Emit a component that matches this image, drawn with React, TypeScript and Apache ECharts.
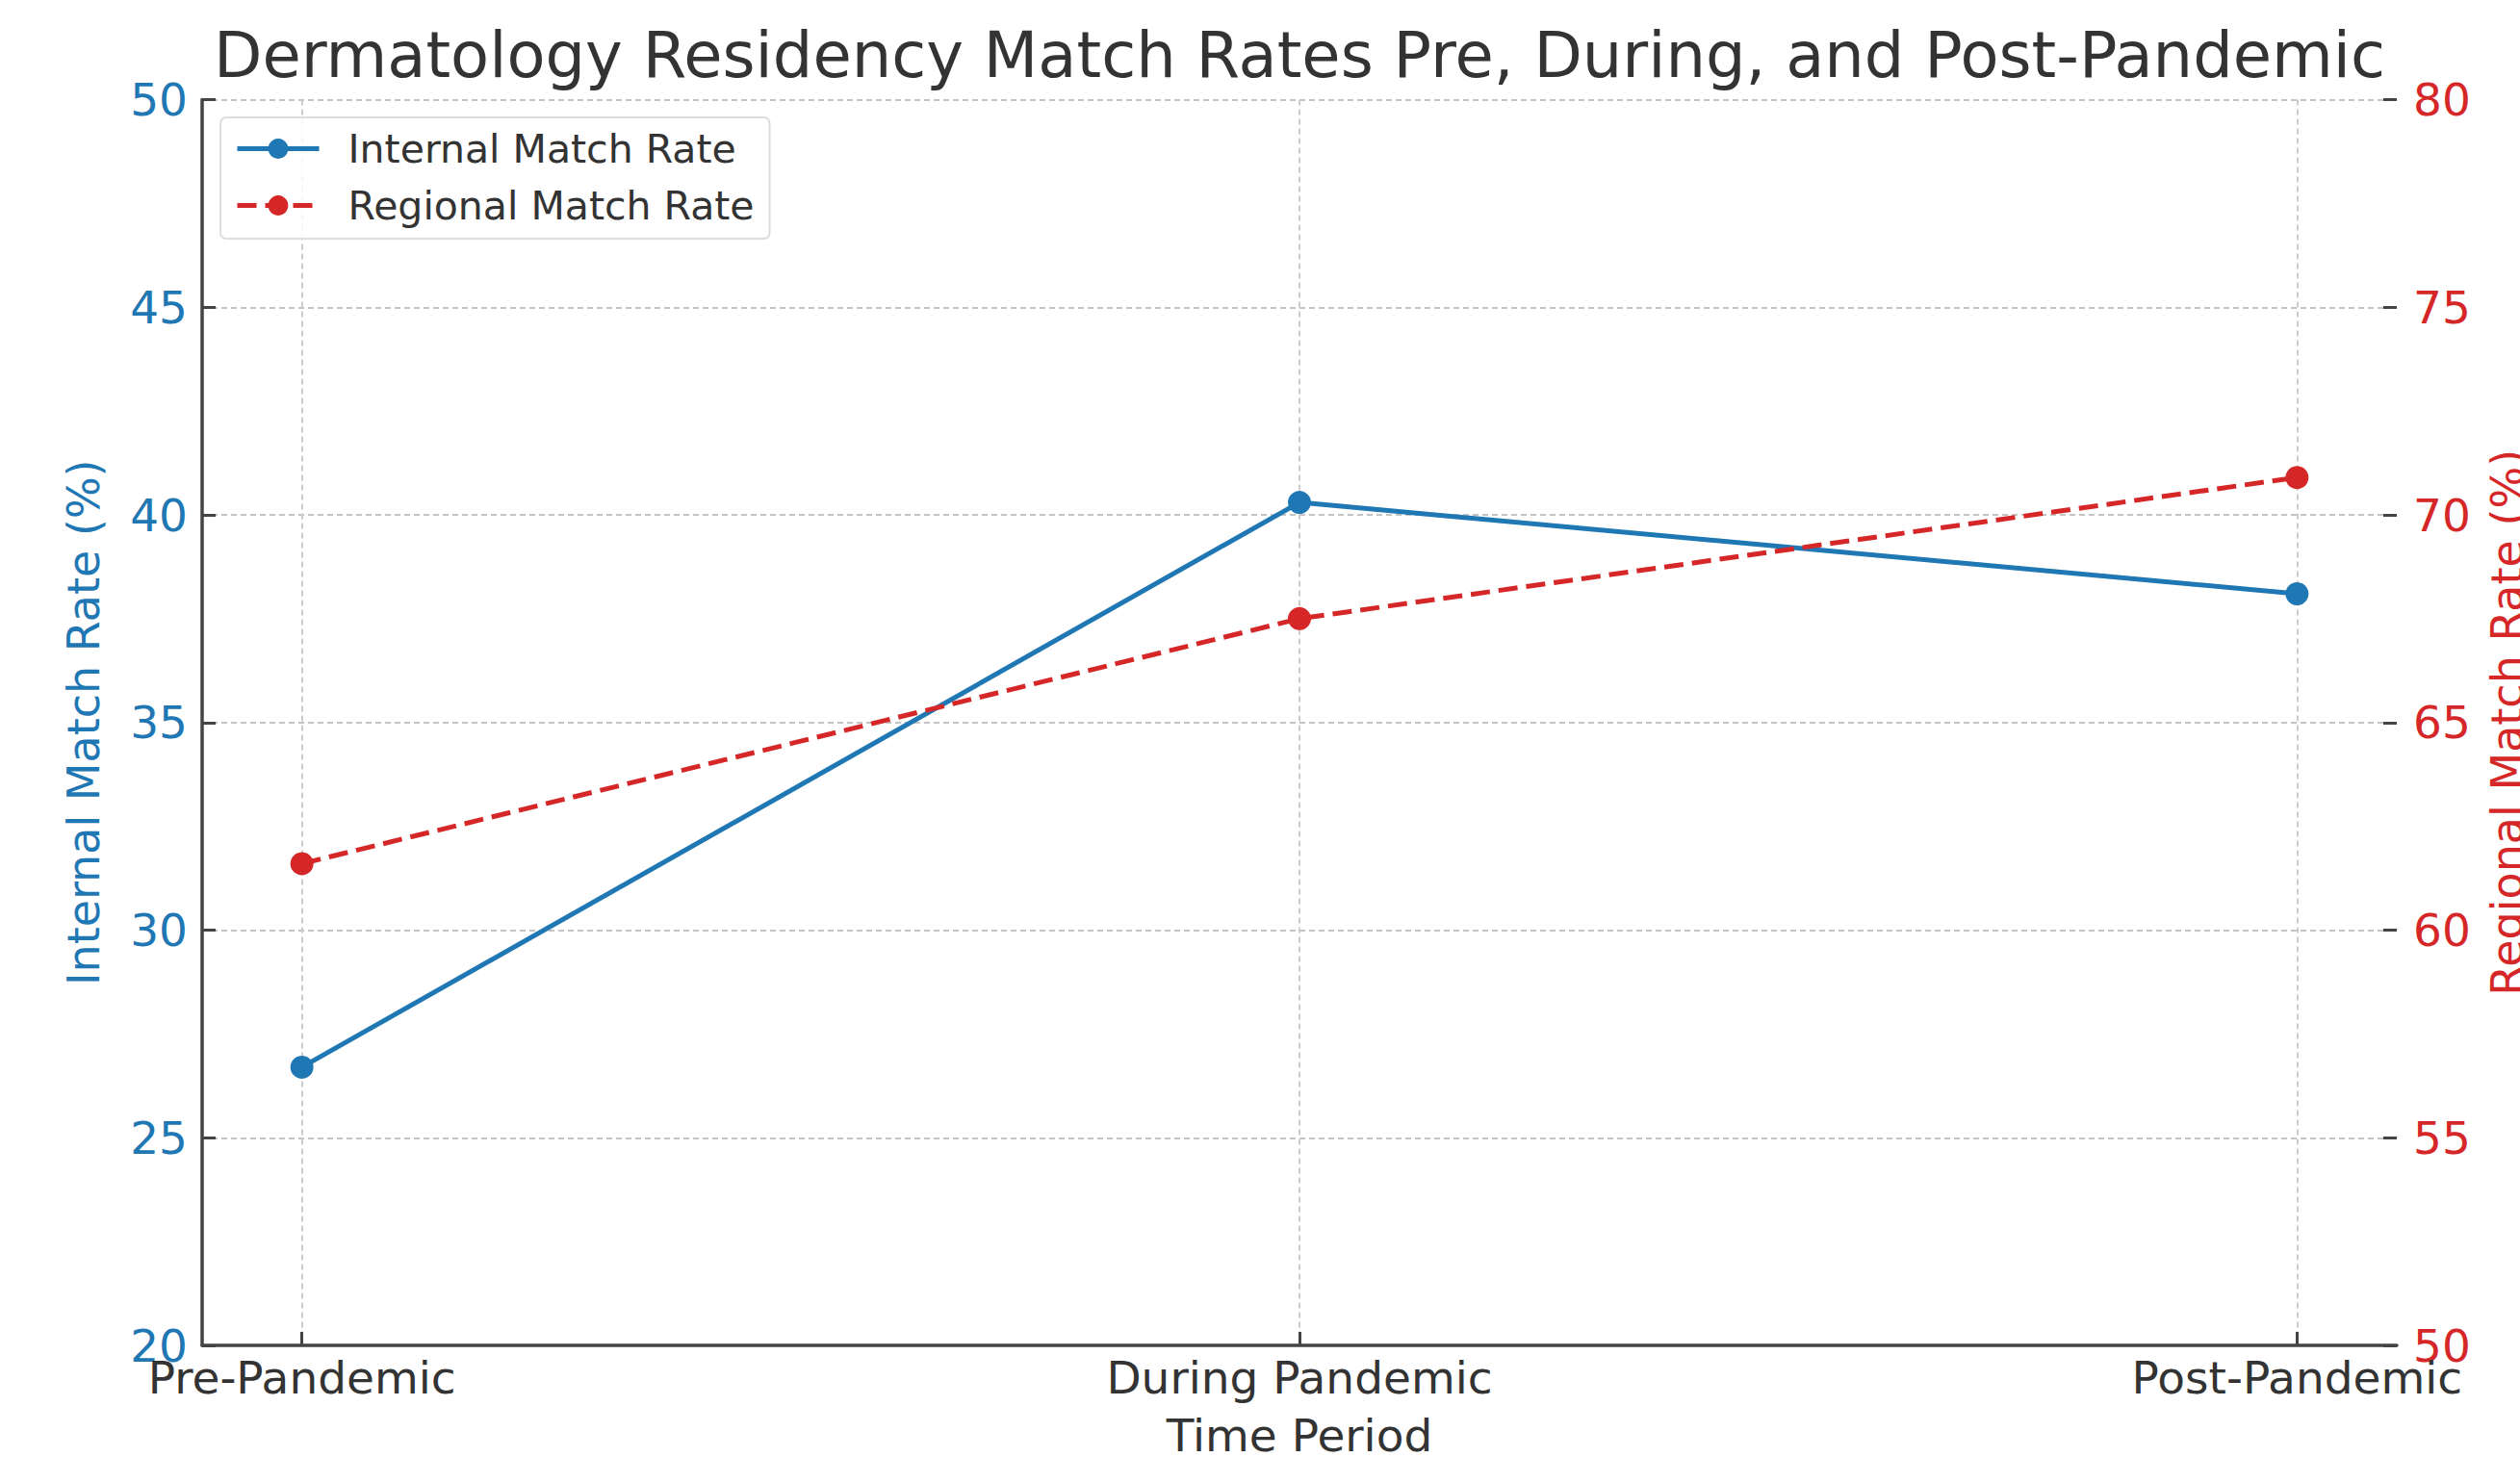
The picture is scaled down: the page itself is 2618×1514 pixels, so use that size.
import React, { useEffect, useRef } from "react";
import * as echarts from "echarts";

const categories = ["Pre-Pandemic", "During Pandemic", "Post-Pandemic"];
const internalRates = [26.7, 40.3, 38.1];
const regionalRates = [61.6, 67.5, 70.9];
const leftTicks = { min: 20, max: 50, step: 5 };
const rightTicks = { min: 50, max: 80, step: 5 };

const BLUE = "#1f77b4";
const RED = "#d62728";
const FONT = "DejaVu Sans";

export default function App() {
  const ref = useRef<HTMLDivElement>(null);
  useEffect(() => {
    document.body.style.margin = "0";
    const chart = echarts.init(ref.current!, null, { renderer: "svg" });
    const idx = categories.map((_, i) => i);
    chart.setOption({
      animation: false,
      backgroundColor: "#ffffff",
      textStyle: { fontFamily: FONT },
      graphic: [
        {
          type: "text",
          x: 1350,
          y: 57,
          style: {
            text: "Dermatology Residency Match Rates Pre, During, and Post-Pandemic",
            font: `65.5px "${FONT}"`,
            fill: "#333333",
            textAlign: "center",
            textVerticalAlign: "middle",
          },
        },
      ],
      grid: {
        left: 210,
        right: 128,
        top: 103.5,
        bottom: 116,
        containLabel: false,
        outerBoundsMode: "none",
      },
      legend: {
        orient: "vertical",
        left: 229,
        top: 122,
        padding: [12, 16, 14, 15],
        itemWidth: 85,
        itemHeight: 26,
        itemGap: 18,
        backgroundColor: "rgba(255,255,255,0.85)",
        borderColor: "#dddddd",
        borderWidth: 2,
        borderRadius: 6,
        textStyle: { fontFamily: FONT, fontSize: 41, color: "#333333", padding: [0, 0, 0, 25] },
        lineStyle: { width: 5 },
        data: ["Internal Match Rate", "Regional Match Rate"],
      },
      xAxis: {
        type: "value",
        min: -0.1,
        max: 2.1,
        name: "Time Period",
        nameLocation: "middle",
        nameGap: 70,
        nameTextStyle: { fontFamily: FONT, fontSize: 47, color: "#333333" },
        axisLine: { show: true, onZero: false, lineStyle: { color: "#444444", width: 3.5 } },
        axisTick: { show: true, inside: true, length: 14, customValues: idx, lineStyle: { color: "#444444", width: 3 } },
        axisLabel: {
          customValues: idx,
          margin: 10,
          fontFamily: FONT,
          fontSize: 47,
          color: "#333333",
          formatter: (v: number) => categories[Math.round(v)] ?? "",
        },
        splitLine: { show: true, lineStyle: { color: "#cccccc", width: 2, type: [6, 4] } },
      },
      yAxis: [
        {
          type: "value",
          position: "left",
          min: leftTicks.min,
          max: leftTicks.max,
          interval: leftTicks.step,
          name: "Internal Match Rate (%)",
          nameLocation: "middle",
          nameGap: 100,
          nameRotate: 90,
          nameTextStyle: { fontFamily: FONT, fontSize: 46, color: BLUE },
          axisLine: { show: true, onZero: false, lineStyle: { color: "#444444", width: 3.5 } },
          axisTick: { show: true, inside: true, length: 14, lineStyle: { color: "#444444", width: 3 } },
          axisLabel: { margin: 15, fontFamily: FONT, fontSize: 47, color: BLUE },
          splitLine: { show: true, lineStyle: { color: "#c4c4c4", width: 2, type: [6, 4] } },
        },
        {
          type: "value",
          position: "right",
          min: rightTicks.min,
          max: rightTicks.max,
          interval: rightTicks.step,
          name: "Regional Match Rate (%)",
          nameLocation: "middle",
          nameGap: 92,
          nameRotate: 90,
          nameTextStyle: { fontFamily: FONT, fontSize: 46, color: RED },
          axisLine: { show: false, onZero: false },
          axisTick: { show: true, inside: true, length: 14, lineStyle: { color: "#444444", width: 3 } },
          axisLabel: { margin: 17, fontFamily: FONT, fontSize: 47, color: RED },
          splitLine: { show: false },
        },
      ],
      series: [
        {
          name: "Internal Match Rate",
          type: "line",
          yAxisIndex: 0,
          data: internalRates.map((v, i) => [i, v]),
          symbol: "circle",
          symbolSize: 24,
          lineStyle: { color: BLUE, width: 5 },
          itemStyle: { color: BLUE },
          z: 3,
        },
        {
          name: "Regional Match Rate",
          type: "line",
          yAxisIndex: 1,
          data: regionalRates.map((v, i) => [i, v]),
          symbol: "circle",
          symbolSize: 24,
          lineStyle: { color: RED, width: 5, type: [20, 9] },
          itemStyle: { color: RED },
          z: 4,
        },
      ],
    });
    return () => chart.dispose();
  }, []);
  return <div ref={ref} style={{ width: 2618, height: 1514 }} />;
}
